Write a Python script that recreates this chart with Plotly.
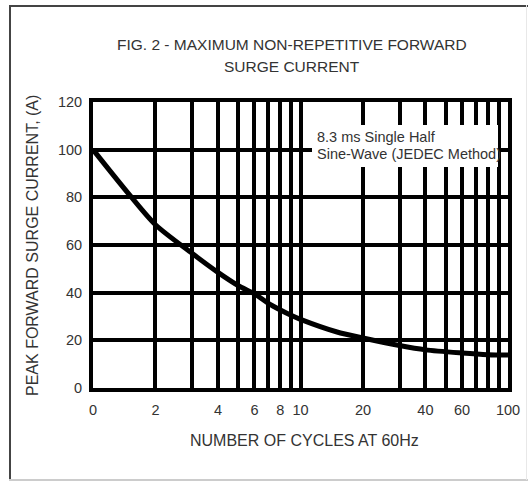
import plotly.graph_objects as go

# Data
cycles = [1, 1.5, 2, 3, 4, 5, 6, 7, 8, 9, 10, 15, 20, 30, 40, 60, 80, 100]
surge_current = [100, 81, 68.5, 56.5, 48.5, 43, 39.5, 35.5, 32.7, 30.5, 28.8, 23.5, 21, 17.8, 16, 14.7, 14, 13.8]

grid_x = [1, 2, 3, 4, 5, 6, 7, 8, 9, 10, 20, 30, 40, 50, 60, 70, 80, 90, 100]
x_labels = {1: "0", 2: "2", 4: "4", 6: "6", 8: "8", 10: "10", 20: "20", 40: "40", 60: "60", 100: "100"}
y_ticks = [0, 20, 40, 60, 80, 100, 120]

title_lines = ["FIG. 2 - MAXIMUM NON-REPETITIVE FORWARD", "SURGE CURRENT"]
note_lines = ["8.3 ms Single Half", "Sine-Wave (JEDEC Method)"]
x_title = "NUMBER OF CYCLES AT 60Hz"
y_title = "PEAK FORWARD SURGE CURRENT, (A)"

W, H = 529, 481
L, R, T, B = 93, 21, 102, 93
pw, ph = W - L - R, H - T - B

def px(x):
    return (x - L) / pw

def py(y):
    return (H - B - y) / ph

FONT = "Liberation Sans, Arial, sans-serif"
TXT = "#333333"

fig = go.Figure()
fig.add_trace(go.Scatter(
    x=cycles, y=surge_current, mode="lines",
    line=dict(color="black", width=5, shape="spline", smoothing=0.8),
    showlegend=False, hoverinfo="skip",
))

fig.update_layout(
    width=W, height=H,
    margin=dict(l=L, r=R, t=T, b=B, autoexpand=False),
    paper_bgcolor="white", plot_bgcolor="white",
    font=dict(family=FONT, size=14, color=TXT),
    xaxis=dict(
        type="log", range=[0, 2],
        tickvals=grid_x,
        ticktext=[x_labels.get(v, "") for v in grid_x],
        showgrid=True, gridcolor="black", gridwidth=4,
        showline=True, linecolor="black", linewidth=4, mirror=True,
        ticks="", ticklen=0, zeroline=False, automargin=False,
        ticklabelstandoff=6,
        tickfont=dict(size=14.5, color=TXT),
    ),
    yaxis=dict(
        range=[0, 120], tickvals=y_ticks,
        showgrid=True, gridcolor="black", gridwidth=4,
        showline=True, linecolor="black", linewidth=4, mirror=True,
        ticks="", zeroline=False, automargin=False,
        ticklabelstandoff=4,
        tickfont=dict(size=14.5, color=TXT),
    ),
)

# Axis titles placed as annotations
fig.add_annotation(xref="paper", yref="paper", x=px(304), y=py(440), text=x_title,
                   showarrow=False, xanchor="center", yanchor="middle",
                   font=dict(family=FONT, size=16, color=TXT))
fig.add_annotation(xref="paper", yref="paper", x=px(32), y=py(246), text=y_title,
                   showarrow=False, xanchor="center", yanchor="middle", textangle=-90,
                   font=dict(family=FONT, size=16, color=TXT))

# Outer frame (thin filled strips)
def strip(x0, x1, y0, y1, color):
    fig.add_shape(type="rect", xref="paper", yref="paper", layer="above",
                  x0=px(x0), x1=px(x1), y0=py(y1), y1=py(y0),
                  line=dict(width=0), fillcolor=color)

strip(9, 11, 5, 480, "#444444")
strip(9, 528, 5, 7, "#444444")
strip(9, 528, 479, 481, "#cccccc")
strip(526, 527, 5, 480, "#e8e8e8")

# White box behind the note
fig.add_shape(type="rect", xref="paper", yref="paper", layer="above",
              x0=px(312), x1=px(498), y0=py(167), y1=py(125),
              line=dict(width=0), fillcolor="white")

for t, yy in zip(note_lines, [137, 154]):
    fig.add_annotation(xref="paper", yref="paper", x=px(315), y=py(yy),
                       text=t, showarrow=False, xanchor="left", yanchor="middle",
                       font=dict(family=FONT, size=14.5, color=TXT))

for t, yy in zip(title_lines, [44, 66]):
    fig.add_annotation(xref="paper", yref="paper", x=px(292), y=py(yy),
                       text=t, showarrow=False, xanchor="center", yanchor="middle",
                       font=dict(family=FONT, size=15.5, color=TXT))

fig.write_html("out.html", config={"displayModeBar": False},
               post_script="document.body.style.margin='0';document.body.style.overflow='hidden';")
